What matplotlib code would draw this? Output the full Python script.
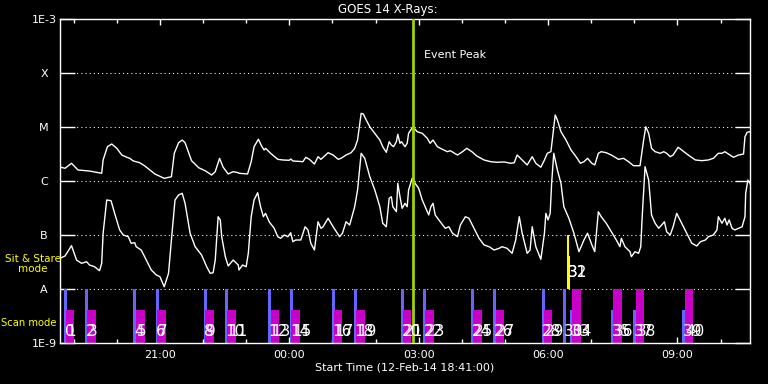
import numpy as np
import pandas as pd
import matplotlib
matplotlib.use('Agg')
import matplotlib.pyplot as plt
import matplotlib.dates as mdates

# start of the plotted interval
start = pd.Timestamp('2014-02-12 18:41:00')
event_peak_min = 491

# GOES long channel (1-8 A), minutes after start / W m^-2
long_min = [1, 7, 16, 25, 41, 58, 60, 66, 72, 79, 86, 93, 97, 102, 111, 118, 132, 145, 155, 159,
            165, 170, 174, 183, 193, 202, 211, 216, 222, 227, 234, 241, 248,
            249, 261, 266, 270, 276, 281, 284, 286, 293, 303, 310, 319, 321, 324, 338, 342, 347,
            354, 359, 363, 373, 380, 387, 391, 398, 405, 410, 414, 419, 422, 426, 431, 438, 445,
            449, 454, 458, 461, 464, 468, 470, 473, 475, 480,
            483, 485, 491, 497, 504, 511, 515, 519, 525, 532, 539, 543, 553, 560, 566, 573, 580,
            590, 599, 608, 618, 627, 632, 636, 643, 650, 657, 662, 669, 674, 678, 683, 686, 689,
            692, 697, 704, 711, 718, 724, 729, 734,
            740, 744, 749, 753, 760, 767, 777, 784, 791, 798, 807, 812, 815, 819, 823, 828, 835,
            840, 844, 849, 853, 860, 865, 874, 884, 893, 902, 909, 916, 921, 925, 930, 937, 944,
            951, 953, 956, 960]
long_flux = [1.8e-6, 1.72e-6, 2.13e-6, 1.6e-6, 1.53e-6, 1.39e-6, 2.45e-6, 4.32e-6, 4.84e-6, 4.03e-6,
             3.03e-6, 2.75e-6, 2.63e-6, 2.35e-6, 2.18e-6, 1.9e-6, 1.35e-6, 1.12e-6, 1.2e-6, 3.26e-6,
             5.12e-6, 5.74e-6, 5.12e-6, 2.38e-6, 1.76e-6, 1.55e-6, 1.29e-6, 1.49e-6, 2.63e-6, 1.8e-6,
             1.35e-6, 1.49e-6, 1.42e-6,
             1.39e-6, 1.35e-6, 2.28e-6, 4.32e-6, 5.92e-6, 4.32e-6, 3.75e-6, 4.03e-6, 3.26e-6, 2.52e-6,
             2.45e-6, 2.42e-6, 2.56e-6, 2.35e-6, 2.28e-6, 2.75e-6, 2.52e-6, 2.06e-6, 2.82e-6, 2.52e-6,
             3.34e-6, 3.03e-6, 2.52e-6, 2.63e-6, 3.03e-6, 3.34e-6, 4.03e-6, 5.74e-6, 1.79e-5, 1.74e-5,
             1.35e-5, 1.01e-5, 7.64e-6, 5.74e-6, 4.32e-6, 3.4e-6, 5.34e-6, 4.64e-6, 4.32e-6, 5.34e-6,
             7.33e-6, 4.99e-6, 5.34e-6, 4.32e-6,
             4.99e-6, 7.64e-6, 1.01e-5, 8.18e-6, 7.64e-6, 6.18e-6, 4.99e-6, 5.74e-6, 4.32e-6, 3.86e-6,
             3.49e-6, 3.64e-6, 3.03e-6, 3.49e-6, 4.03e-6, 3.49e-6, 2.9e-6, 2.45e-6, 2.28e-6, 2.22e-6,
             2.25e-6, 2.13e-6, 2.18e-6, 3.03e-6, 2.45e-6, 1.98e-6, 2.82e-6, 2.13e-6, 1.8e-6, 2.45e-6,
             3.26e-6, 3.49e-6, 7.64e-6, 1.67e-5, 1.35e-5, 8.18e-6, 5.74e-6, 3.75e-6, 2.82e-6, 2.13e-6,
             2.28e-6, 2.63e-6,
             2.13e-6, 1.98e-6, 3.26e-6, 3.49e-6, 3.34e-6, 3.03e-6, 2.52e-6, 2.63e-6, 2.28e-6, 1.92e-6,
             1.92e-6, 5.74e-6, 1.01e-5, 7.64e-6, 4.03e-6, 3.49e-6, 3.26e-6, 3.49e-6, 3.26e-6, 2.82e-6,
             3.03e-6, 4.21e-6, 3.75e-6, 3.03e-6, 2.45e-6, 2.38e-6, 2.45e-6, 2.63e-6, 3.26e-6, 3.26e-6,
             3.49e-6, 3.16e-6, 2.75e-6, 3.03e-6, 3.16e-6, 6.61e-6, 7.98e-6, 8.18e-6]

# GOES short channel (0.5-4 A)
short_min = [1, 7, 16, 23, 30, 37, 41, 48, 55, 58, 60, 65, 71, 76, 83, 88, 95, 99, 104, 106,
             113, 120, 127, 134, 139, 145, 151, 155, 160, 165, 170, 174, 181, 188, 197, 204, 209,
             213, 216, 220, 223, 225, 230, 234, 241, 248,
             249, 254, 259, 262, 266, 270, 275, 279, 283, 286, 291, 298, 303, 307, 312, 317, 321,
             324, 328, 335, 341, 345, 349, 354, 359, 363, 366, 373, 380, 389, 393, 398, 403, 410,
             414, 419, 424, 431, 438, 445, 449, 454, 458, 461, 463, 468, 470, 473, 476, 480,
             483, 485, 490, 494, 499, 504, 508, 513, 516, 519, 522, 529, 536, 541, 546, 553, 557,
             564, 569, 576, 583, 590, 597, 604, 611, 615, 622, 629, 634, 639, 643, 650, 654, 657,
             662, 669, 674, 676, 679, 682, 684, 687, 692, 697, 701, 708, 715, 722, 729, 734,
             740, 744, 749, 753, 760, 767, 774, 779, 781, 786, 793, 795, 800, 805, 808, 810, 814,
             819, 823, 828, 833, 837, 841, 844, 849, 853, 858, 865, 872, 879, 886, 891, 898, 902,
             909, 914, 916, 921, 925, 928, 931, 935, 939, 944, 949, 953, 954, 957, 960, 963]
short_flux = [3.75e-8, 4.09e-8, 6.34e-8, 3.44e-8, 2.99e-8, 3.2e-8, 2.78e-8, 2.59e-8, 2.18e-8, 2.99e-8,
              1.08e-7, 4.45e-7, 4.32e-7, 2.52e-7, 1.24e-7, 1.0e-7, 9.3e-8, 7.02e-8, 7.2e-8, 6.07e-8,
              5.27e-8, 3.44e-8, 2.25e-8, 1.82e-8, 1.69e-8, 1.1e-8, 1.95e-8, 8.08e-8, 4.45e-7, 5.51e-7,
              5.92e-7, 3.86e-7, 1.08e-7, 6.07e-8, 4.26e-8, 2.59e-8, 1.95e-8, 2.0e-8, 3.44e-8, 2.18e-7,
              1.9e-7, 9.3e-8, 3.97e-8, 2.67e-8, 3.44e-8, 2.78e-8,
              2.25e-8, 2.78e-8, 2.59e-8, 4.58e-8, 2.18e-7, 4.45e-7, 6.07e-7, 3.34e-7, 2.18e-7, 2.52e-7,
              1.76e-7, 1.33e-7, 9.3e-8, 8.69e-8, 1.0e-7, 9.3e-8, 1.1e-7, 7.51e-8, 8.08e-8, 8.08e-8,
              1.42e-7, 1.24e-7, 7.02e-8, 5.27e-8, 1.76e-7, 1.33e-7, 1.42e-7, 2.04e-7, 1.42e-7, 9.3e-8,
              1.08e-7, 1.76e-7, 1.53e-7, 3.34e-7, 6.81e-7, 3.26e-6, 2.63e-6, 1.2e-6, 6.81e-7, 3.34e-7,
              1.65e-7, 1.42e-7, 4.78e-7, 5.12e-7, 3.34e-7, 2.7e-7, 9.06e-7, 5.12e-7, 3.12e-7, 3.86e-7,
              3.34e-7, 6.81e-7, 1.12e-6, 9.06e-7, 7.33e-7, 4.45e-7, 3.34e-7, 2.35e-7, 3.34e-7, 3.86e-7,
              2.35e-7, 1.76e-7, 1.33e-7, 1.42e-7, 1.08e-7, 9.3e-8, 1.53e-7, 2.18e-7, 2.04e-7, 1.33e-7,
              8.69e-8, 6.55e-8, 6.07e-8, 5.27e-8, 5.67e-8, 6.07e-8, 5.67e-8, 4.58e-8, 8.08e-8, 2.18e-7,
              1.08e-7, 4.58e-8, 5.27e-8, 1.42e-7, 6.07e-8, 3.55e-8, 1.08e-7, 2.52e-7, 1.9e-7, 2.52e-7,
              9.06e-7, 3.26e-6, 1.6e-6, 9.06e-7, 3.34e-7, 2.04e-7, 1.08e-7, 4.91e-8, 8.08e-8, 1.08e-7,
              6.55e-8, 4.91e-8, 2.7e-7, 2.18e-7, 1.65e-7, 1.15e-7, 8.08e-8, 6.07e-8, 8.69e-8, 6.07e-8,
              4.91e-8, 3.97e-8, 4.91e-8, 4.58e-8, 6.07e-8, 2.18e-7, 1.84e-6, 1.04e-6, 2.35e-7, 1.65e-7,
              1.33e-7, 1.53e-7, 1.76e-7, 1.15e-7, 1.0e-7, 1.42e-7, 2.52e-7, 1.65e-7, 1.08e-7, 7.02e-8,
              6.26e-8, 7.51e-8, 8.08e-8, 9.3e-8, 1.0e-7, 1.24e-7, 2.18e-7, 1.65e-7, 2.04e-7, 1.53e-7,
              1.9e-7, 1.33e-7, 1.24e-7, 1.33e-7, 1.42e-7, 2.18e-7, 5.92e-7, 1.04e-6, 9.06e-7, 7.33e-7]

# observations: number, start (min after start), mode, large raster flag
obs_num = list(range(41))
obs_min = [6, 8, 35, 38, 102, 106, 133, 135, 200, 202, 229, 233, 289, 293, 320, 322, 378, 381,
           409, 412, 474, 477, 505, 508, 572, 575, 603, 606, 670, 673, 700, 705, 705, 710, 713,
           767, 770, 797, 801, 866, 869]
obs_mode = ['scanA', 'scanB'] * 15 + ['scanA', 'sst', 'sst', 'scanA', 'scanB',
                                       'scanA', 'scanB', 'scanA', 'scanB', 'scanA', 'scanB']
obs_large = [True, False] * 15 + [True, True, False, False, True,
                                  False, True, False, True, False, True]

ylevels = [1e-9, 1e-8, 1e-7, 1e-6, 1e-5, 1e-4, 1e-3]
ylabels = ['1E-9', 'A', 'B', 'C', 'M', 'X', '1E-3']

plt.rcParams['font.family'] = ['DejaVu Sans']

fig = plt.figure(figsize=(7.68, 3.84), dpi=100, facecolor='black')
ax = fig.add_axes([60/768, 41/384, 690/768, 324/384], facecolor='black')

tm = lambda m: start + pd.to_timedelta(np.asarray(m, dtype=float), unit='m')
day = 1.0 / 1440.0

# observation bars
bar_color = {'scanA': '#6464ff', 'scanB': '#c800c8', 'sst': '#ffff00'}
bar_width = {'scanA': 4.3, 'scanB': 12.0, 'sst': 2.5}
for k in ['scanA', 'scanB', 'sst']:
    for i, m in enumerate(obs_min):
        if obs_mode[i] != k:
            continue
        lo = 1e-8 if k == 'sst' else 1e-9
        hi = lo * 10 if obs_large[i] else lo * 10**0.61
        w = bar_width[k] * day
        if k == 'sst' and not obs_large[i]:
            w = 4.0 * day
        ax.bar(mdates.date2num(tm(m)), hi - lo, bottom=lo, width=w, align='edge',
               color=bar_color[k], zorder=2)
for i, m in enumerate(obs_min):
    yl = 2.06e-8 if obs_mode[i] == 'sst' else 1.6e-9
    ax.text(mdates.date2num(tm(m + 1)), yl, str(obs_num[i]), color='white', fontsize=11,
            ha='left', va='center', zorder=5)

ax.plot(tm(long_min), long_flux, color='white', lw=1, zorder=3)
ax.plot(tm(short_min), short_flux, color='white', lw=1, zorder=3)

ax.axvline(tm(event_peak_min), color='#a0d200', lw=2, zorder=4)
ax.text(tm(event_peak_min + 15), 2.2e-4, 'Event Peak', color='white', fontsize=8,
        ha='left', va='center')

ax.set_yscale('log')
ax.set_ylim(1e-9, 1e-3)
ax.set_yticks(ylevels)
ax.set_yticklabels(ylabels)
ax.yaxis.set_minor_locator(matplotlib.ticker.NullLocator())
ax.set_xlim(start, start + pd.Timedelta(hours=16))
ax.xaxis.set_major_locator(mdates.HourLocator(byhour=range(0, 24, 3)))
ax.xaxis.set_minor_locator(mdates.HourLocator())
ax.xaxis.set_major_formatter(mdates.DateFormatter('%H:%M'))

ax.grid(axis='y', which='major', color='white', linestyle=(0, (1, 3)), lw=0.75)
ax.tick_params(axis='y', which='major', direction='in', length=11, width=1, color='white',
               labelcolor='white', labelsize=8, right=True, pad=11.5)
for lab in ax.get_yticklabels():
    lab.set_horizontalalignment('center')
ax.tick_params(axis='x', which='major', direction='in', length=4.5, width=1, color='white',
               labelcolor='white', labelsize=8, top=True, pad=5)
ax.tick_params(axis='x', which='minor', direction='in', length=3, width=1, color='white',
               top=True)
for s in ax.spines.values():
    s.set_color('white')
    s.set_linewidth(1)

# side labels
fig.text(33/768, 1 - 264/384, 'Sit & Stare\nmode', color='yellow', fontsize=7.5,
         ha='center', va='center', linespacing=1.1)
fig.text(29/768, 1 - 323/384, 'Scan mode', color='yellow', fontsize=7.2,
         ha='center', va='center')
fig.text(388/768, 1 - 9/384, 'GOES 14 X-Rays:', color='white', fontsize=8.5,
         ha='center', va='center')
fig.text(405/768, 1 - 368/384, 'Start Time (12-Feb-14 18:41:00)', color='white', fontsize=8,
         ha='center', va='center')

fig.savefig('out.png', dpi=100, facecolor='black')
